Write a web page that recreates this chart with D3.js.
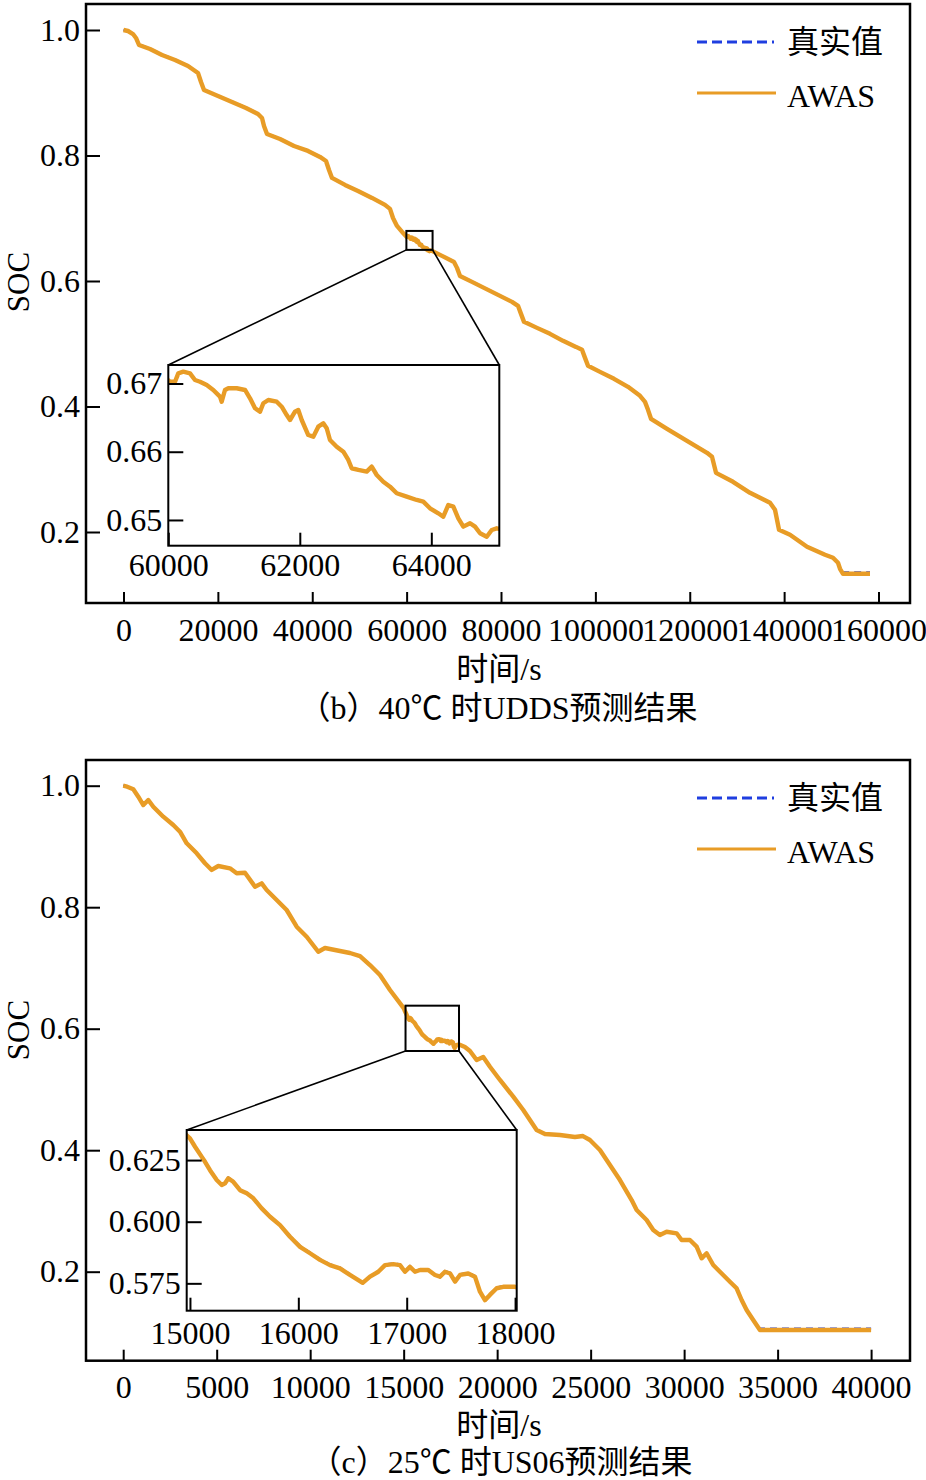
<!DOCTYPE html>
<html><head><meta charset="utf-8">
<script src="https://cdn.jsdelivr.net/npm/d3@7"></script>
<style>
body{margin:0;background:#fff}
svg text{font-family:"Liberation Serif","Times New Roman","Noto Sans CJK SC",serif;fill:#000}
</style>
</head><body>
<svg id="chart" width="926" height="1480"></svg>
<script>
// ---------------- DATA ----------------
const seriesNames = ["真实值", "AWAS"];
const titles = ["（b）40℃ 时UDDS预测结果", "（c）25℃ 时US06预测结果"];
const xAxisTitle = "时间/s";
const yAxisTitle = "SOC";

const socTicks = [0.2, 0.4, 0.6, 0.8, 1.0];
const uddsXTicks = [0, 20000, 40000, 60000, 80000, 100000, 120000, 140000, 160000];
const us06XTicks = [0, 5000, 10000, 15000, 20000, 25000, 30000, 35000, 40000];
const uddsInsetXTicks = [60000, 62000, 64000];
const uddsInsetYTicks = [0.65, 0.66, 0.67];
const us06InsetXTicks = [15000, 16000, 17000, 18000];
const us06InsetYTicks = [0.575, 0.600, 0.625];

// zoom windows (time range, SOC range)
const uddsInsetT = [60000, 65034];
const uddsInsetSoc = [0.64623, 0.67271];
const uddsBoxT = [59950, 65500];
const uddsBoxSoc = [0.6496, 0.6798];
const us06InsetT = [14970, 18015];
const us06InsetSoc = [0.5639, 0.6372];
const us06BoxT = [15100, 17960];
const us06BoxSoc = [0.5633, 0.6379];

// UDDS 40°C
const uddsTime = [0,954,2013,2649,3285,5616,8159,10914,13669,15788,16424,17060,20026,22993,25960,28503,29351,29775,30411,33166,36133,39099,41642,42914,43550,44185,46940,49695,52662,55417,56477,57113,57960,59300,
60026,60102,60152,60228,60330,60406,60482,60584,60684,60786,60812,60862,60913,61040,61167,61243,61319,61395,61445,61521,61649,61725,61801,61851,61927,61977,62029,62129,62205,62281,62357,62409,62459,62561,62662,62738,62789,62890,63017,63094,63170,63270,63372,63474,63626,63778,63878,63980,64106,64182,64259,64335,64411,64487,64589,64665,64741,64843,64919,64995,
65378,67497,70040,70676,71312,73855,76822,79789,82332,83603,84239,84875,87630,90385,93140,95895,97166,97802,98438,100981,103948,106915,109458,110517,111153,111789,115180,119418,123657,124716,125140,125564,129167,132769,137008,138067,138491,138915,141246,144849,148663,150359,151418,151842,152478,155233,158200];
const uddsTrue = [1.0000,0.9986,0.9940,0.9878,0.9770,0.9705,0.9610,0.9528,0.9435,0.9322,0.9180,0.9050,0.8955,0.8860,0.8765,0.8668,0.8605,0.8478,0.8350,0.8270,0.8158,0.8080,0.7983,0.7920,0.7776,0.7650,0.7538,0.7440,0.7330,0.7218,0.7155,0.7010,0.6882,0.6762,
0.67030,0.67030,0.67152,0.67176,0.67150,0.67056,0.67030,0.66982,0.66910,0.66812,0.66738,0.66908,0.66934,0.66934,0.66908,0.66788,0.66640,0.66592,0.66714,0.66762,0.66738,0.66665,0.66542,0.66470,0.66590,0.66616,0.66470,0.66250,0.66226,0.66370,0.66420,0.66350,0.66176,0.66078,0.66006,0.65884,0.65762,0.65738,0.65712,0.65786,0.65664,0.65566,0.65492,0.65396,0.65346,0.65298,0.65272,0.65176,0.65102,0.65052,0.65226,0.65200,0.65030,0.64906,0.64956,0.64906,0.64810,0.64760,0.64858,0.64882,
0.6485,0.6405,0.6310,0.6214,0.6086,0.5992,0.5880,0.5768,0.5672,0.5610,0.5482,0.5354,0.5259,0.5163,0.5052,0.4956,0.4908,0.4780,0.4654,0.4558,0.4447,0.4318,0.4176,0.4080,0.3952,0.3810,0.3650,0.3459,0.3268,0.3204,0.3076,0.2948,0.2806,0.2630,0.2470,0.2360,0.2200,0.2040,0.1962,0.1770,0.1643,0.1595,0.1516,0.1420,0.1358,0.1358,0.1358];
const uddsAwas = [1.0000,0.9984,0.9936,0.9873,0.9761,0.9697,0.9602,0.9522,0.9427,0.9315,0.9172,0.9044,0.8949,0.8853,0.8758,0.8662,0.8598,0.8471,0.8343,0.8264,0.8152,0.8073,0.7977,0.7913,0.7770,0.7643,0.7531,0.7435,0.7324,0.7213,0.7149,0.7005,0.6878,0.6760,
0.67026,0.67026,0.67149,0.67173,0.67149,0.67051,0.67026,0.66978,0.66905,0.66807,0.66733,0.66905,0.66930,0.66930,0.66905,0.66783,0.66637,0.66587,0.66710,0.66758,0.66733,0.66660,0.66538,0.66465,0.66587,0.66612,0.66465,0.66245,0.66221,0.66367,0.66417,0.66344,0.66172,0.66074,0.66001,0.65879,0.65758,0.65733,0.65708,0.65781,0.65659,0.65561,0.65488,0.65391,0.65341,0.65293,0.65268,0.65171,0.65098,0.65048,0.65220,0.65195,0.65025,0.64902,0.64952,0.64902,0.64805,0.64755,0.64853,0.64878,
0.6480,0.6400,0.6304,0.6209,0.6081,0.5986,0.5874,0.5763,0.5667,0.5604,0.5476,0.5349,0.5253,0.5158,0.5046,0.4950,0.4903,0.4775,0.4648,0.4552,0.4441,0.4313,0.4170,0.4074,0.3947,0.3804,0.3644,0.3453,0.3262,0.3198,0.3071,0.2943,0.2800,0.2625,0.2465,0.2354,0.2195,0.2035,0.1956,0.1765,0.1637,0.1589,0.1510,0.1414,0.1334,0.1334,0.1334];

// US06 25°C
const us06Time = [0,150,540,807,1075,1342,1610,2144,2679,3037,3396,3931,4374,4733,5086,5711,6070,6513,7048,7406,7674,8209,8743,9278,9813,10433,10792,11327,12129,12664,13198,13733,14268,
15000,15047,15109,15139,15185,15247,15293,15324,15354,15400,15462,15524,15585,15662,15739,15831,15923,16016,16108,16200,16292,16384,16476,16594,16661,16738,16800,16876,16938,16984,17030,17077,17123,17199,17261,17307,17353,17400,17446,17492,17568,17630,17676,17722,17768,17830,17891,17999,
18278,18546,18904,19257,19615,20150,20861,21396,22112,22556,23358,24160,24588,24963,25498,26033,26567,27193,27461,27995,28348,28705,29064,29598,29866,30310,30669,30936,31203,31556,31914,32449,32807,33075,33342,33695,34053,40000];
const us06True = [1.0000,0.9992,0.9946,0.9824,0.9688,0.9770,0.9660,0.9496,0.9358,0.9248,0.9058,0.8892,0.8728,0.8618,0.8683,0.8645,0.8563,0.8573,0.8342,0.8397,0.8288,0.8124,0.7959,0.7684,0.7519,0.7272,0.7333,0.7300,0.7251,0.7201,0.7053,0.6889,0.6642,
0.6340,0.6307,0.6266,0.6246,0.6212,0.6172,0.6152,0.6159,0.6179,0.6165,0.6131,0.6118,0.6098,0.6057,0.6023,0.5989,0.5942,0.5901,0.5875,0.5848,0.5827,0.5814,0.5787,0.5750,0.5775,0.5800,0.5827,0.5831,0.5827,0.5800,0.5820,0.5800,0.5807,0.5807,0.5786,0.5774,0.5800,0.5793,0.5760,0.5787,0.5793,0.5780,0.5719,0.5680,0.5706,0.5733,0.5739,0.5739,
0.5703,0.5638,0.5490,0.5539,0.5379,0.5161,0.4886,0.4667,0.4337,0.4272,0.4255,0.4222,0.4238,0.4173,0.4008,0.3761,0.3514,0.3185,0.3020,0.2856,0.2691,0.2609,0.2663,0.2637,0.2526,0.2526,0.2417,0.2225,0.2308,0.2115,0.2005,0.1840,0.1732,0.1539,0.1375,0.1210,0.1062,0.1062];
const us06Awas = [1.0000,0.9990,0.9941,0.9819,0.9682,0.9765,0.9654,0.9490,0.9353,0.9243,0.9052,0.8887,0.8723,0.8613,0.8678,0.8640,0.8558,0.8568,0.8337,0.8392,0.8283,0.8119,0.7954,0.7679,0.7514,0.7267,0.7328,0.7295,0.7246,0.7196,0.7048,0.6884,0.6637,
0.6338,0.6304,0.6263,0.6243,0.6209,0.6169,0.6149,0.6156,0.6176,0.6162,0.6128,0.6115,0.6095,0.6054,0.6020,0.5986,0.5939,0.5898,0.5872,0.5845,0.5824,0.5811,0.5784,0.5752,0.5777,0.5797,0.5824,0.5828,0.5824,0.5797,0.5817,0.5797,0.5804,0.5804,0.5784,0.5777,0.5797,0.5790,0.5757,0.5784,0.5790,0.5777,0.5716,0.5682,0.5703,0.5730,0.5736,0.5736,
0.5699,0.5633,0.5485,0.5534,0.5374,0.5156,0.4881,0.4662,0.4332,0.4267,0.4250,0.4217,0.4233,0.4168,0.4003,0.3756,0.3509,0.3180,0.3015,0.2851,0.2686,0.2604,0.2658,0.2632,0.2521,0.2521,0.2412,0.2220,0.2303,0.2110,0.2000,0.1835,0.1727,0.1534,0.1370,0.1205,0.1040,0.1040];

// ---------------- DRAWING ----------------
const svg = d3.select("#chart");
const BLUE = "#1f3ee0", ORANGE = "#e89c26";
const FS = 32;

function styleAxis(g) {
  g.select(".domain").remove();
  g.attr("font-size", FS).attr("font-family", null);
  g.selectAll(".tick line").attr("stroke", "#000").attr("stroke-width", 2);
  g.selectAll(".tick text").attr("fill", "#000");
}

function drawPanel(p) {
  const g = svg.append("g");
  const [L, T, R, B] = p.frame;
  const x = d3.scaleLinear().domain(p.xDomain).range(p.xRange);
  const y = d3.scaleLinear().domain([0.2, 1.0]).range(p.yRange);
  const data = p.time.map((t, i) => ({t, tr: p.truth[i], aw: p.awas[i]}));

  // axes
  const xa = g.append("g").attr("transform", `translate(0,${B})`)
    .call(d3.axisBottom(x).tickValues(p.xTicks).tickSize(-11).tickPadding(15).tickFormat(d3.format("d")));
  styleAxis(xa);
  const ya = g.append("g").attr("transform", `translate(${L},0)`)
    .call(d3.axisLeft(y).tickValues(socTicks).tickSize(-14).tickPadding(6).tickFormat(d3.format(".1f")));
  styleAxis(ya);

  // main lines
  const lineTrue = d3.line().x(d => x(d.t)).y(d => y(d.tr));
  const lineAw = d3.line().x(d => x(d.t)).y(d => y(d.aw));
  g.append("path").datum(data).attr("d", lineTrue).attr("fill", "none")
    .attr("stroke", BLUE).attr("stroke-width", 2.2).attr("stroke-dasharray", "7,5");
  g.append("path").datum(data).attr("d", lineAw).attr("fill", "none")
    .attr("stroke", ORANGE).attr("stroke-width", 4.4).attr("stroke-linejoin", "round");

  // frame
  g.append("rect").attr("x", L).attr("y", T).attr("width", R - L).attr("height", B - T)
    .attr("fill", "none").attr("stroke", "#000").attr("stroke-width", 2.5);

  // zoom box and connectors
  const bx0 = x(p.boxT[0]), bx1 = x(p.boxT[1]), by0 = y(p.boxSoc[1]), by1 = y(p.boxSoc[0]);
  g.append("rect").attr("x", bx0).attr("y", by0).attr("width", bx1 - bx0).attr("height", by1 - by0)
    .attr("fill", "none").attr("stroke", "#000").attr("stroke-width", 2);
  const [iL, iT, iR, iB] = p.inset;
  g.append("line").attr("x1", bx0).attr("y1", by1).attr("x2", iL).attr("y2", iT).attr("stroke", "#000").attr("stroke-width", 1.6);
  g.append("line").attr("x1", bx1).attr("y1", by1).attr("x2", iR).attr("y2", iT).attr("stroke", "#000").attr("stroke-width", 1.6);

  // inset
  const ix = d3.scaleLinear().domain(p.insetT).range([iL, iR]);
  const iy = d3.scaleLinear().domain(p.insetSoc).range([iB, iT]);
  g.append("rect").attr("x", iL).attr("y", iT).attr("width", iR - iL).attr("height", iB - iT).attr("fill", "#fff");
  const clipId = "clip" + p.id;
  g.append("clipPath").attr("id", clipId).append("rect")
    .attr("x", iL).attr("y", iT).attr("width", iR - iL).attr("height", iB - iT);
  const ig = g.append("g").attr("clip-path", `url(#${clipId})`);
  const inData = data.filter(d => d.t >= p.insetT[0] - 3000 && d.t <= p.insetT[1] + 3000);
  ig.append("path").datum(inData).attr("d", d3.line().x(d => ix(d.t)).y(d => iy(d.tr))).attr("fill", "none")
    .attr("stroke", BLUE).attr("stroke-width", 2.2).attr("stroke-dasharray", "7,5");
  ig.append("path").datum(inData).attr("d", d3.line().x(d => ix(d.t)).y(d => iy(d.aw))).attr("fill", "none")
    .attr("stroke", ORANGE).attr("stroke-width", 4.4).attr("stroke-linejoin", "round");
  const ixa = g.append("g").attr("transform", `translate(0,${iB})`)
    .call(d3.axisBottom(ix).tickValues(p.insetXTicks).tickSize(-13).tickPadding(p.insetXPad).tickFormat(d3.format("d")));
  styleAxis(ixa);
  const iya = g.append("g").attr("transform", `translate(${iL},0)`)
    .call(d3.axisLeft(iy).tickValues(p.insetYTicks).tickSize(-15).tickPadding(6).tickFormat(d3.format(p.insetYFmt)));
  styleAxis(iya);
  g.append("rect").attr("x", iL).attr("y", iT).attr("width", iR - iL).attr("height", iB - iT)
    .attr("fill", "none").attr("stroke", "#000").attr("stroke-width", 2);

  // legend
  const oy = T - 4;
  g.append("line").attr("x1", 697).attr("x2", 774).attr("y1", oy + 42).attr("y2", oy + 42)
    .attr("stroke", BLUE).attr("stroke-width", 3).attr("stroke-dasharray", "10,5");
  g.append("text").attr("x", 787).attr("y", oy + 42).attr("dy", "0.35em").attr("font-size", FS).text(seriesNames[0]);
  g.append("line").attr("x1", 697).attr("x2", 776).attr("y1", oy + 93).attr("y2", oy + 93)
    .attr("stroke", ORANGE).attr("stroke-width", 3);
  g.append("text").attr("x", 787).attr("y", oy + 107).attr("font-size", FS).text(seriesNames[1]);

  // axis titles
  g.append("text").attr("transform", `translate(29,${p.socY}) rotate(-90)`).attr("text-anchor", "middle")
    .attr("font-size", 31).text(yAxisTitle);
  g.append("text").attr("x", 499).attr("y", p.xTitleY).attr("dy", "0.35em").attr("text-anchor", "middle")
    .attr("font-size", FS).text(xAxisTitle);
  g.append("text").attr("x", p.titleX).attr("y", p.titleY).attr("dy", "0.35em").attr("text-anchor", "middle")
    .attr("font-size", 32).text(p.title);
}

drawPanel({
  id: 1, frame: [86, 4, 910, 603],
  xDomain: [0, 160000], xRange: [123.5, 878.5], yRange: [532, 30],
  xTicks: uddsXTicks, time: uddsTime, truth: uddsTrue, awas: uddsAwas,
  boxT: uddsBoxT, boxSoc: uddsBoxSoc,
  inset: [168.3, 365, 499.3, 545.7], insetT: uddsInsetT, insetSoc: uddsInsetSoc,
  insetXTicks: uddsInsetXTicks, insetYTicks: uddsInsetYTicks, insetYFmt: ".2f", insetXPad: 8,
  socY: 282, xTitleY: 669, titleX: 498, titleY: 708, title: titles[0]
});
drawPanel({
  id: 2, frame: [86, 760, 910, 1360.7],
  xDomain: [0, 40000], xRange: [123.2, 871.1], yRange: [1271.7, 785.7],
  xTicks: us06XTicks, time: us06Time, truth: us06True, awas: us06Awas,
  boxT: us06BoxT, boxSoc: us06BoxSoc,
  inset: [186.7, 1130, 516.7, 1310.7], insetT: us06InsetT, insetSoc: us06InsetSoc,
  insetXTicks: us06InsetXTicks, insetYTicks: us06InsetYTicks, insetYFmt: ".3f", insetXPad: 11,
  socY: 1030, xTitleY: 1425, titleX: 501, titleY: 1462, title: titles[1]
});
</script>
</body></html>
